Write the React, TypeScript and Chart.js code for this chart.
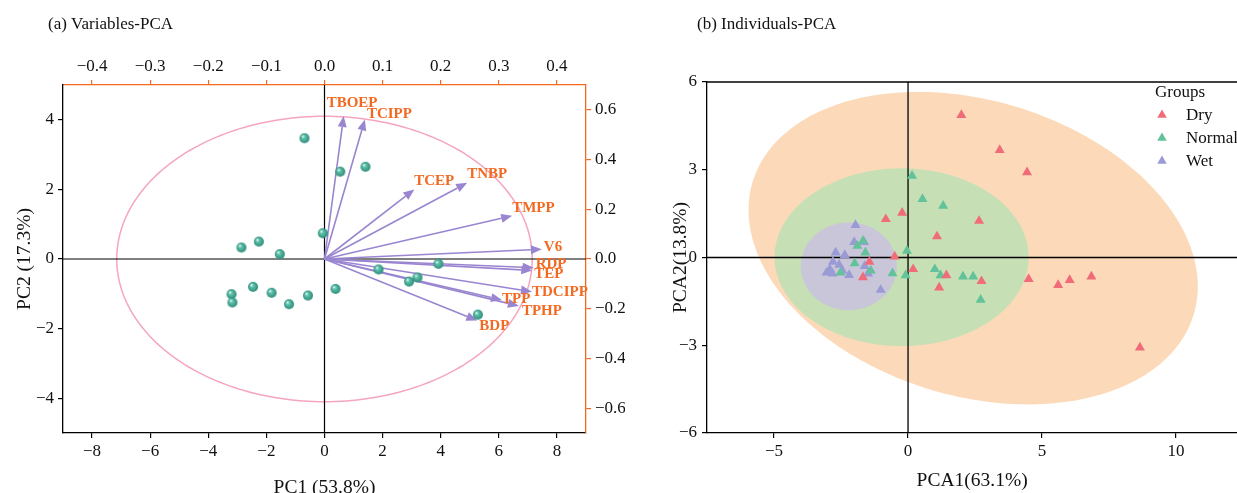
import React, { useEffect, useRef } from 'react';
import { Chart, registerables } from 'chart.js';
Chart.register(...registerables);

// ---------- Panel (a) Variables-PCA ----------
const pc1Ticks = [-8, -6, -4, -2, 0, 2, 4, 6, 8];
const pc2Ticks = [-4, -2, 0, 2, 4];
const loadTopTicks = [-0.4, -0.3, -0.2, -0.1, 0, 0.1, 0.2, 0.3, 0.4];
const loadRightTicks = [-0.6, -0.4, -0.2, 0, 0.2, 0.4, 0.6];

const sampleX = [-0.69, 0.54, 1.41, -0.06, -2.26, -2.86, -1.54, -2.46, -3.2, -3.17, -1.82, -1.22, -0.57, 0.38, 3.92, 1.86, 3.2, 2.91, 5.28];
const sampleY = [3.47, 2.51, 2.65, 0.74, 0.5, 0.33, 0.14, -0.8, -1.01, -1.25, -0.97, -1.3, -1.05, -0.86, -0.14, -0.3, -0.53, -0.65, -1.6];

const varNames = ['TBOEP', 'TCIPP', 'TCEP', 'TNBP', 'TMPP', 'V6', 'RDP', 'TEP', 'TDCIPP', 'TPP', 'TPHP', 'BDP'];
const varX = [0.66, 1.39, 3.09, 4.91, 6.46, 7.48, 7.2, 7.15, 7.14, 6.11, 6.69, 5.26];
const varY = [4.11, 4.01, 2.0, 2.19, 1.24, 0.28, -0.25, -0.33, -0.94, -1.18, -1.35, -1.77];
// label placement relative to arrow tip (pixels)
const varLabelDX = [-17, 2, 0, 0, 0, 2, 2, 2, 0, 0, 3, 2];
const varLabelDY = [-13, -5, -8, -9, -8, -2, -4, 4, 0, -1, 5, 6];

const circleRadii = [7.15, 4.1];

// ---------- Panel (b) Individuals-PCA ----------
const pca1Ticks = [-5, 0, 5, 10];
const pca2Ticks = [-6, -3, 0, 3, 6];
const groupNames = ['Dry', 'Normal', 'Wet'];

const dryX = [1.99, 3.42, 4.44, -0.22, -0.83, 2.65, 1.08, -0.5, -1.44, 0.19, 1.43, 1.16, 2.74, 4.5, 5.6, 6.03, 6.84, 8.65, -1.68];
const dryY = [4.87, 3.67, 2.91, 1.53, 1.31, 1.25, 0.72, 0.03, -0.15, -0.4, -0.61, -1.03, -0.81, -0.74, -0.94, -0.77, -0.65, -3.08, -0.68];
const normalX = [0.15, 0.54, 1.31, -0.04, -1.68, -1.89, -1.59, -1.99, -1.39, -0.58, -0.09, 1.0, 1.21, 2.05, 2.43, 2.71, -2.52];
const normalY = [2.79, 2.0, 1.77, 0.23, 0.57, 0.4, 0.17, -0.2, -0.45, -0.54, -0.61, -0.4, -0.61, -0.65, -0.65, -1.45, -0.52];
const wetX = [-1.96, -2.01, -1.64, -2.7, -2.36, -2.8, -2.57, -2.92, -3.04, -2.82, -2.2, -1.62, -1.49, -1.02, -2.45];
const wetY = [1.11, 0.53, 0.53, 0.17, 0.08, -0.15, -0.25, -0.4, -0.52, -0.55, -0.6, -0.29, -0.55, -1.11, -0.45];

// confidence ellipses: centre and two conjugate semi-axis vectors (data units)
const ellipseCX = [2.43, -0.24, -2.21];
const ellipseCY = [0.32, 0.01, -0.3];
const ellipseU = [[8.23, -2.26], [4.74, 0], [1.79, 0]];
const ellipseV = [[-1.58, -4.84], [0, 3.04], [0, 1.5]];

// ---------- styles ----------
const FONT = "'Liberation Serif', 'Times New Roman', serif";
const ORANGE = '#f26a21';
const PURPLE = '#9a86d0';
const PINK = '#f5a5c0';
const groupColors = ['#f06c78', '#62c29a', '#9a9bd4'];
const ellipseColors = ['#fcdab9', '#c7dfb4', '#c9c6da'];

const MINUS = '\u2212';
const fmt = (v: number, d: number) => {
  const r = Math.abs(v) < 1e-9 ? 0 : v;
  return (r < 0 ? MINUS : '') + Math.abs(r).toFixed(d);
};
const fixedTicks = (vals: number[]) => (scale: any) => {
  scale.ticks = vals.map((v) => ({ value: v }));
};

function makeSphere(r: number) {
  const c = document.createElement('canvas');
  const s = Math.ceil(r * 2) + 2;
  c.width = s;
  c.height = s;
  const g = c.getContext('2d')!;
  const cx = s / 2;
  const cy = s / 2;
  const grad = g.createRadialGradient(cx - r * 0.35, cy - r * 0.4, r * 0.05, cx, cy, r);
  grad.addColorStop(0, '#f2fffb');
  grad.addColorStop(0.3, '#63c4ad');
  grad.addColorStop(1, '#2a8a78');
  g.fillStyle = grad;
  g.beginPath();
  g.arc(cx, cy, r, 0, Math.PI * 2);
  g.fill();
  return c;
}

function axisCommon(color: string) {
  return {
    grid: { display: true, drawOnChartArea: false, drawTicks: true, tickLength: 5, color, lineWidth: 1.2 },
    border: { display: true, color, width: 1.3 },
  };
}
const tickFont = { size: 17, family: FONT };
const titleFont = { size: 19.5, family: FONT };

function drawArrow(ctx: CanvasRenderingContext2D, x0: number, y0: number, x1: number, y1: number) {
  const ang = Math.atan2(y1 - y0, x1 - x0);
  const L = 11;
  const W = 4.5;
  const bx = x1 - L * Math.cos(ang);
  const by = y1 - L * Math.sin(ang);
  ctx.strokeStyle = PURPLE;
  ctx.fillStyle = PURPLE;
  ctx.lineWidth = 1.6;
  ctx.beginPath();
  ctx.moveTo(x0, y0);
  ctx.lineTo(bx, by);
  ctx.stroke();
  ctx.beginPath();
  ctx.moveTo(x1, y1);
  ctx.lineTo(bx + W * Math.sin(ang), by - W * Math.cos(ang));
  ctx.lineTo(bx - W * Math.sin(ang), by + W * Math.cos(ang));
  ctx.closePath();
  ctx.fill();
}

const panelAPlugin = {
  id: 'panelA',
  beforeDatasetsDraw(chart: any) {
    const { ctx, chartArea: ca } = chart;
    const x = chart.scales.x;
    const y = chart.scales.y;
    const x0 = x.getPixelForValue(0);
    const y0 = y.getPixelForValue(0);
    ctx.save();
    ctx.beginPath();
    ctx.rect(ca.left, ca.top, ca.right - ca.left, ca.bottom - ca.top);
    ctx.clip();
    ctx.strokeStyle = PINK;
    ctx.lineWidth = 1.5;
    ctx.beginPath();
    const N = 240;
    for (let i = 0; i <= N; i++) {
      const t = (i / N) * Math.PI * 2;
      const px = x.getPixelForValue(circleRadii[0] * Math.cos(t));
      const py = y.getPixelForValue(circleRadii[1] * Math.sin(t));
      if (i === 0) ctx.moveTo(px, py);
      else ctx.lineTo(px, py);
    }
    ctx.stroke();
    ctx.strokeStyle = '#000';
    ctx.lineWidth = 1.2;
    ctx.beginPath();
    ctx.moveTo(x0, ca.top);
    ctx.lineTo(x0, ca.bottom);
    ctx.moveTo(ca.left, y0);
    ctx.lineTo(ca.right, y0);
    ctx.stroke();
    ctx.restore();
    ctx.save();
    varX.forEach((vx, i) => {
      drawArrow(ctx, x0, y0, x.getPixelForValue(vx), y.getPixelForValue(varY[i]));
    });
    ctx.restore();
  },
  afterDatasetsDraw(chart: any) {
    const { ctx } = chart;
    const x = chart.scales.x;
    const y = chart.scales.y;
    ctx.save();
    ctx.fillStyle = ORANGE;
    ctx.font = `bold 15px ${FONT}`;
    ctx.textAlign = 'left';
    ctx.textBaseline = 'middle';
    varNames.forEach((name, i) => {
      const px = x.getPixelForValue(varX[i]) + varLabelDX[i];
      const py = y.getPixelForValue(varY[i]) + varLabelDY[i];
      ctx.fillText(name, px, py);
    });
    ctx.restore();
  },
  afterDraw(chart: any) {
    const { ctx } = chart;
    ctx.save();
    ctx.fillStyle = '#111';
    ctx.font = `17px ${FONT}`;
    ctx.textAlign = 'left';
    ctx.textBaseline = 'middle';
    ctx.fillText('(a) Variables-PCA', 48, 25);
    ctx.restore();
  },
};

const panelBPlugin = {
  id: 'panelB',
  beforeDatasetsDraw(chart: any) {
    const { ctx, chartArea: ca } = chart;
    const x = chart.scales.x;
    const y = chart.scales.y;
    ctx.save();
    ctx.beginPath();
    ctx.rect(ca.left, ca.top, ca.right - ca.left, ca.bottom - ca.top);
    ctx.clip();
    ellipseCX.forEach((cx, k) => {
      const cy = ellipseCY[k];
      const u = ellipseU[k];
      const v = ellipseV[k];
      ctx.fillStyle = ellipseColors[k];
      ctx.beginPath();
      const N = 240;
      for (let i = 0; i <= N; i++) {
        const t = (i / N) * Math.PI * 2;
        const dx = cx + u[0] * Math.cos(t) + v[0] * Math.sin(t);
        const dy = cy + u[1] * Math.cos(t) + v[1] * Math.sin(t);
        const px = x.getPixelForValue(dx);
        const py = y.getPixelForValue(dy);
        if (i === 0) ctx.moveTo(px, py);
        else ctx.lineTo(px, py);
      }
      ctx.closePath();
      ctx.fill();
    });
    const x0 = x.getPixelForValue(0);
    const y0 = y.getPixelForValue(0);
    ctx.strokeStyle = '#000';
    ctx.lineWidth = 1.3;
    ctx.beginPath();
    ctx.moveTo(x0, ca.top);
    ctx.lineTo(x0, ca.bottom);
    ctx.moveTo(ca.left, y0);
    ctx.lineTo(ca.right, y0);
    ctx.stroke();
    ctx.restore();
  },
  afterDraw(chart: any) {
    const { ctx, chartArea: ca } = chart;
    ctx.save();
    ctx.strokeStyle = '#000';
    ctx.lineWidth = 1.3;
    ctx.beginPath();
    ctx.moveTo(ca.left, ca.top);
    ctx.lineTo(ca.right, ca.top);
    ctx.stroke();
    ctx.fillStyle = '#111';
    ctx.font = `17px ${FONT}`;
    ctx.textAlign = 'left';
    ctx.textBaseline = 'middle';
    ctx.fillText('(b) Individuals-PCA', 57, 25);
    // legend
    const lx = 515;
    ctx.fillText('Groups', lx, 93);
    groupNames.forEach((g, i) => {
      const cy = 115 + i * 23;
      const r = 5.5;
      ctx.fillStyle = groupColors[i];
      ctx.beginPath();
      ctx.moveTo(lx + 7, cy - r);
      ctx.lineTo(lx + 7 + r * 0.866, cy + r * 0.5);
      ctx.lineTo(lx + 7 - r * 0.866, cy + r * 0.5);
      ctx.closePath();
      ctx.fill();
      ctx.fillStyle = '#111';
      ctx.fillText(g, lx + 31, cy + 1);
    });
    ctx.restore();
  },
};

export default function App() {
  const refA = useRef<HTMLCanvasElement>(null);
  const refB = useRef<HTMLCanvasElement>(null);

  useEffect(() => {
    Chart.defaults.font.family = FONT;
    Chart.defaults.color = '#111';
    const sphere = makeSphere(5);

    const chartA = new Chart(refA.current!, {
      type: 'scatter',
      data: {
        datasets: [
          {
            data: sampleX.map((v, i) => ({ x: v, y: sampleY[i] })),
            pointStyle: sphere as any,
            pointRadius: 5,
            xAxisID: 'x',
            yAxisID: 'y',
          },
        ],
      },
      options: {
        responsive: false,
        animation: false,
        layout: { padding: 0 },
        plugins: { legend: { display: false }, tooltip: { enabled: false } },
        scales: {
          x: {
            type: 'linear', position: 'bottom', min: -9, max: 9, bounds: 'data',
            afterBuildTicks: fixedTicks(pc1Ticks),
            afterFit: (s: any) => { s.height = 67; },
            ticks: { callback: (v: any) => fmt(Number(v), 0), font: tickFont, color: '#111', padding: 3, maxRotation: 0, autoSkip: false },
            ...axisCommon('#000'),
            title: { display: true, text: 'PC1 (53.8%)', font: titleFont, color: '#111', padding: { top: 0, bottom: 0 } },
          },
          x2: {
            type: 'linear', position: 'top', min: -0.45, max: 0.45, bounds: 'data',
            afterBuildTicks: fixedTicks(loadTopTicks),
            afterFit: (s: any) => { s.height = 85; },
            ticks: { callback: (v: any) => fmt(Number(v), 1), font: tickFont, color: '#111', padding: 3, maxRotation: 0, autoSkip: false },
            ...axisCommon(ORANGE),
          },
          y: {
            type: 'linear', position: 'left', min: -5, max: 5, bounds: 'data',
            afterBuildTicks: fixedTicks(pc2Ticks),
            afterFit: (s: any) => { s.width = 63; },
            ticks: { callback: (v: any) => fmt(Number(v), 0), font: tickFont, color: '#111', padding: 4, autoSkip: false },
            ...axisCommon('#000'),
            title: { display: true, text: 'PC2 (17.3%)', font: titleFont, color: '#111', padding: { top: 13, bottom: 0 } },
          },
          y2: {
            type: 'linear', position: 'right', min: -0.7, max: 0.7, bounds: 'data',
            afterBuildTicks: fixedTicks(loadRightTicks),
            afterFit: (s: any) => { s.width = 39; },
            ticks: { callback: (v: any) => fmt(Number(v), 1), font: tickFont, color: '#111', padding: 4, autoSkip: false },
            ...axisCommon(ORANGE),
          },
        },
      } as any,
      plugins: [panelAPlugin],
    });

    const mk = (xs: number[], ys: number[], k: number) => ({
      label: groupNames[k],
      data: xs.map((v, i) => ({ x: v, y: ys[i] })),
      pointStyle: 'triangle',
      pointRadius: 5.8,
      backgroundColor: groupColors[k],
      borderColor: groupColors[k],
      borderWidth: 0,
    });

    const chartB = new Chart(refB.current!, {
      type: 'scatter',
      data: {
        datasets: [mk(dryX, dryY, 0), mk(normalX, normalY, 1), mk(wetX, wetY, 2)],
      },
      options: {
        responsive: false,
        animation: false,
        layout: { padding: { top: 82, right: 0, left: 0, bottom: 0 } },
        plugins: { legend: { display: false }, tooltip: { enabled: false } },
        scales: {
          x: {
            type: 'linear', position: 'bottom', min: -7.5, max: 12.28, bounds: 'data',
            afterBuildTicks: fixedTicks(pca1Ticks),
            afterFit: (s: any) => { s.height = 67; },
            ticks: { callback: (v: any) => fmt(Number(v), 0), font: tickFont, color: '#111', padding: 3, maxRotation: 0, autoSkip: false },
            ...axisCommon('#000'),
            title: { display: true, text: 'PCA1(63.1%)', font: titleFont, color: '#111', padding: { top: 0, bottom: 7 } },
          },
          y: {
            type: 'linear', position: 'left', min: -6, max: 6, bounds: 'data',
            afterBuildTicks: fixedTicks(pca2Ticks),
            afterFit: (s: any) => { s.width = 67; },
            ticks: { callback: (v: any) => fmt(Number(v), 0), font: tickFont, color: '#111', padding: 5, autoSkip: false },
            ...axisCommon('#000'),
            title: { display: true, text: 'PCA2(13.8%)', font: titleFont, color: '#111', padding: { top: 29, bottom: 0 } },
          },
        },
      } as any,
      plugins: [panelBPlugin],
    });

    return () => {
      chartA.destroy();
      chartB.destroy();
    };
  }, []);

  return (
    <div style={{ position: 'fixed', left: 0, top: 0, width: 1237, height: 493, overflow: 'hidden', background: '#fff' }}>
      <canvas ref={refA} width={625} height={500} style={{ position: 'absolute', left: 0, top: 0 }} />
      <canvas ref={refB} width={603} height={500} style={{ position: 'absolute', left: 640, top: 0 }} />
    </div>
  );
}
